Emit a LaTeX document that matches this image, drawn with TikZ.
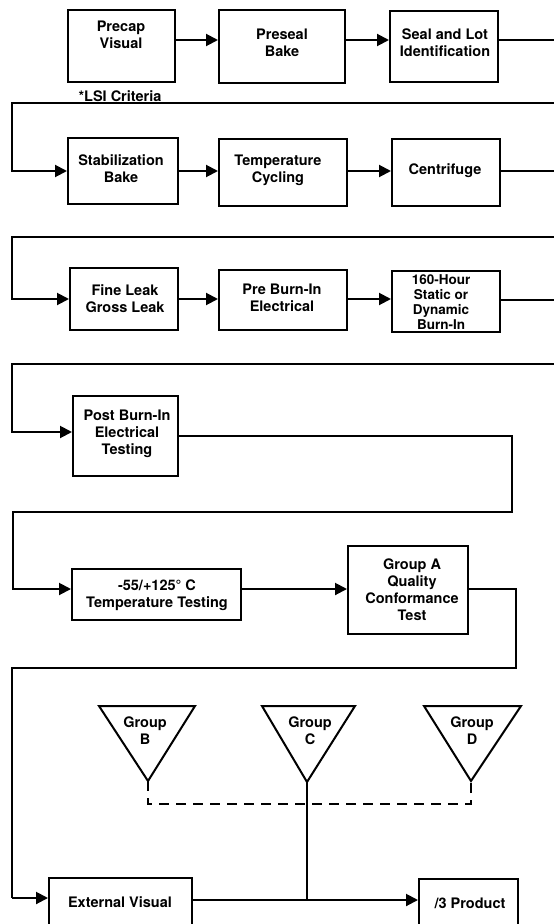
\documentclass[tikz,border=0pt]{standalone}
\usepackage{fontspec}
\setmainfont{TeX Gyre Heros}
\usetikzlibrary{arrows.meta}
\begin{document}
\begin{tikzpicture}[x=1pt,y=-1pt,
 box/.style={draw, line width=2pt, inner sep=0pt},
 txt/.style={font=\fontsize{14.5}{17}\selectfont\bfseries, align=center, inner sep=0pt},
 smalltxt/.style={font=\fontsize{13.5}{14.8}\selectfont\bfseries, align=center, inner sep=0pt},
 ln/.style={line width=2pt},
 arr/.style={line width=2pt, -{Triangle[length=12pt,width=12pt]}},
 dsh/.style={line width=2pt, dash pattern=on 10pt off 7pt},
 tri/.style={line width=2pt, line join=miter}]
\useasboundingbox (0,0) rectangle (554,924);
\clip (0,0) rectangle (554,924);

% ---------- row 1
\node[box, minimum width=107pt, minimum height=72pt] (p1) at (121.5,46) {};
\node[txt] (p1t) at (121,35) {Precap\\Visual};
\node[box, minimum width=126pt, minimum height=73pt] (p2) at (282,46.5) {};
\node[txt] (p2t) at (282,43) {Preseal\\Bake};
\node[box, minimum width=108pt, minimum height=71pt] (p3) at (444,46.5) {};
\node[txt] (p3t) at (445,43) {Seal and Lot\\Identification};
\node[txt] (lsi) at (120,96) {*LSI Criteria};

% ---------- row 2
\node[box, minimum width=110pt, minimum height=66pt] (s1) at (123,171) {};
\node[txt] (s1t) at (121,168.5) {Stabilization\\Bake};
\node[box, minimum width=128pt, minimum height=67pt] (s2) at (283,172.5) {};
\node[txt] (s2t) at (278,170) {Temperature\\Cycling};
\node[box, minimum width=108pt, minimum height=67pt] (s3) at (446,172.5) {};
\node[txt] (s3t) at (445,171) {Centrifuge};

% ---------- row 3
\node[box, minimum width=108pt, minimum height=62pt] (f1) at (124,299) {};
\node[txt] (f1t) at (125,298.5) {Fine Leak\\Gross Leak};
\node[box, minimum width=128pt, minimum height=60pt] (f2) at (283,300) {};
\node[txt] (f2t) at (282,297.5) {Pre Burn-In\\Electrical};
\node[box, minimum width=108pt, minimum height=61pt] (f3) at (446,301.5) {};
\node[smalltxt] (f3t) at (441,302) {160-Hour\\Static or\\Dynamic\\Burn-In};

% ---------- row 4
\node[box, minimum width=105pt, minimum height=80pt] (pb) at (125.5,436) {};
\node[txt] (pbt) at (127,434) {Post Burn-In\\Electrical\\Testing};

% ---------- row 5
\node[box, minimum width=169pt, minimum height=51pt] (tt) at (156.5,594.5) {};
\node[txt] (ttt) at (157,595) {-55/+125° C\\Temperature Testing};
\node[box, minimum width=120pt, minimum height=88pt] (ga) at (408,590) {};
\node[txt] (gat) at (412,589.5) {Group A\\Quality\\Conformance\\Test};

% ---------- row 6
\node[box, minimum width=143pt, minimum height=62pt] (ev) at (120.5,909) {};
\node[txt] (evt) at (120,902) {External Visual};
\node[box, minimum width=99pt, minimum height=61pt] (pr) at (468.5,909.5) {};
\node[txt] (prt) at (470,903) {/3 Product};

% ---------- triangles
\coordinate (bL) at (99,706);  \coordinate (bR) at (195,706); \coordinate (bT) at (148,781);
\coordinate (cL) at (262,706); \coordinate (cR) at (355,706); \coordinate (cT) at (307,782);
\coordinate (dL) at (424,706); \coordinate (dR) at (521,706); \coordinate (dT) at (471,781);
\draw[tri] (bL) -- (bR) -- (bT) -- cycle;
\draw[tri] (cL) -- (cR) -- (cT) -- cycle;
\draw[tri] (dL) -- (dR) -- (dT) -- cycle;
\node[txt] (gb) at (145,731) {Group\\B};
\node[txt] (gc) at (310,731) {Group\\C};
\node[txt] (gd) at (472,731) {Group\\D};

% ---------- row y levels
\coordinate (y1) at (0,40);
\coordinate (y2) at (0,171);
\coordinate (y3) at (0,299);
\coordinate (y4a) at (0,432);
\coordinate (y4b) at (0,436);
\coordinate (y5) at (0,589);
\coordinate (y6a) at (0,898);
\coordinate (y6b) at (0,900);

% ---------- connectors row 1
\draw[arr] (p1.east |- y1) -- (p2.west |- y1);
\draw[arr] (p2.east |- y1) -- (p3.west |- y1);
\coordinate (e1) at (554,40);
\draw[ln] (p3.east |- y1) -- (e1);
% loop 1
\coordinate (l1a) at (554,103); \coordinate (l1b) at (12,103);
\draw[arr] (l1a) -- (l1b) |- (s1.west |- y2);
% row 2
\draw[arr] (s1.east |- y2) -- (s2.west |- y2);
\draw[arr] (s2.east |- y2) -- (s3.west |- y2);
\coordinate (e2) at (554,171);
\draw[ln] (s3.east |- y2) -- (e2);
% loop 2
\coordinate (l2a) at (554,237); \coordinate (l2b) at (12,237);
\draw[arr] (l2a) -- (l2b) |- (f1.west |- y3);
% row 3
\draw[arr] (f1.east |- y3) -- (f2.west |- y3);
\draw[arr] (f2.east |- y3) -- (f3.west |- y3);
\coordinate (e3) at (554,300);
\draw[ln] (f3.east |- e3) -- (e3);
% loop 3
\coordinate (l3a) at (554,364); \coordinate (l3b) at (12,364);
\draw[arr] (l3a) -- (l3b) |- (pb.west |- y4a);
% loop 4
\coordinate (c4a) at (512,436); \coordinate (c4b) at (512,512); \coordinate (c4c) at (13,512);
\draw[arr] (pb.east |- y4b) -- (c4a) -- (c4b) -- (c4c) |- (tt.west |- y5);
% row 5
\draw[arr] (tt.east |- y5) -- (ga.west |- y5);
\coordinate (c5a) at (516,589); \coordinate (c5b) at (516,668); \coordinate (c5c) at (12,668);
\draw[ln] (ga.east |- y5) -- (c5a) -- (c5b) -- (c5c) -- (c5c |- y6a);
\draw[arr] (c5c |- y6a) -- (ev.west |- y6a);
% row 6
\coordinate (j) at (307,900);
\draw[arr] (ev.east |- y6b) -- (pr.west |- y6b);
% group links
\coordinate (db) at (148,804); \coordinate (dd) at (471,804);
\draw[dsh] (bT) -- (db) -- (dd) -- (dT);
\draw[ln] (cT) -- (j);
\end{tikzpicture}
\end{document}
